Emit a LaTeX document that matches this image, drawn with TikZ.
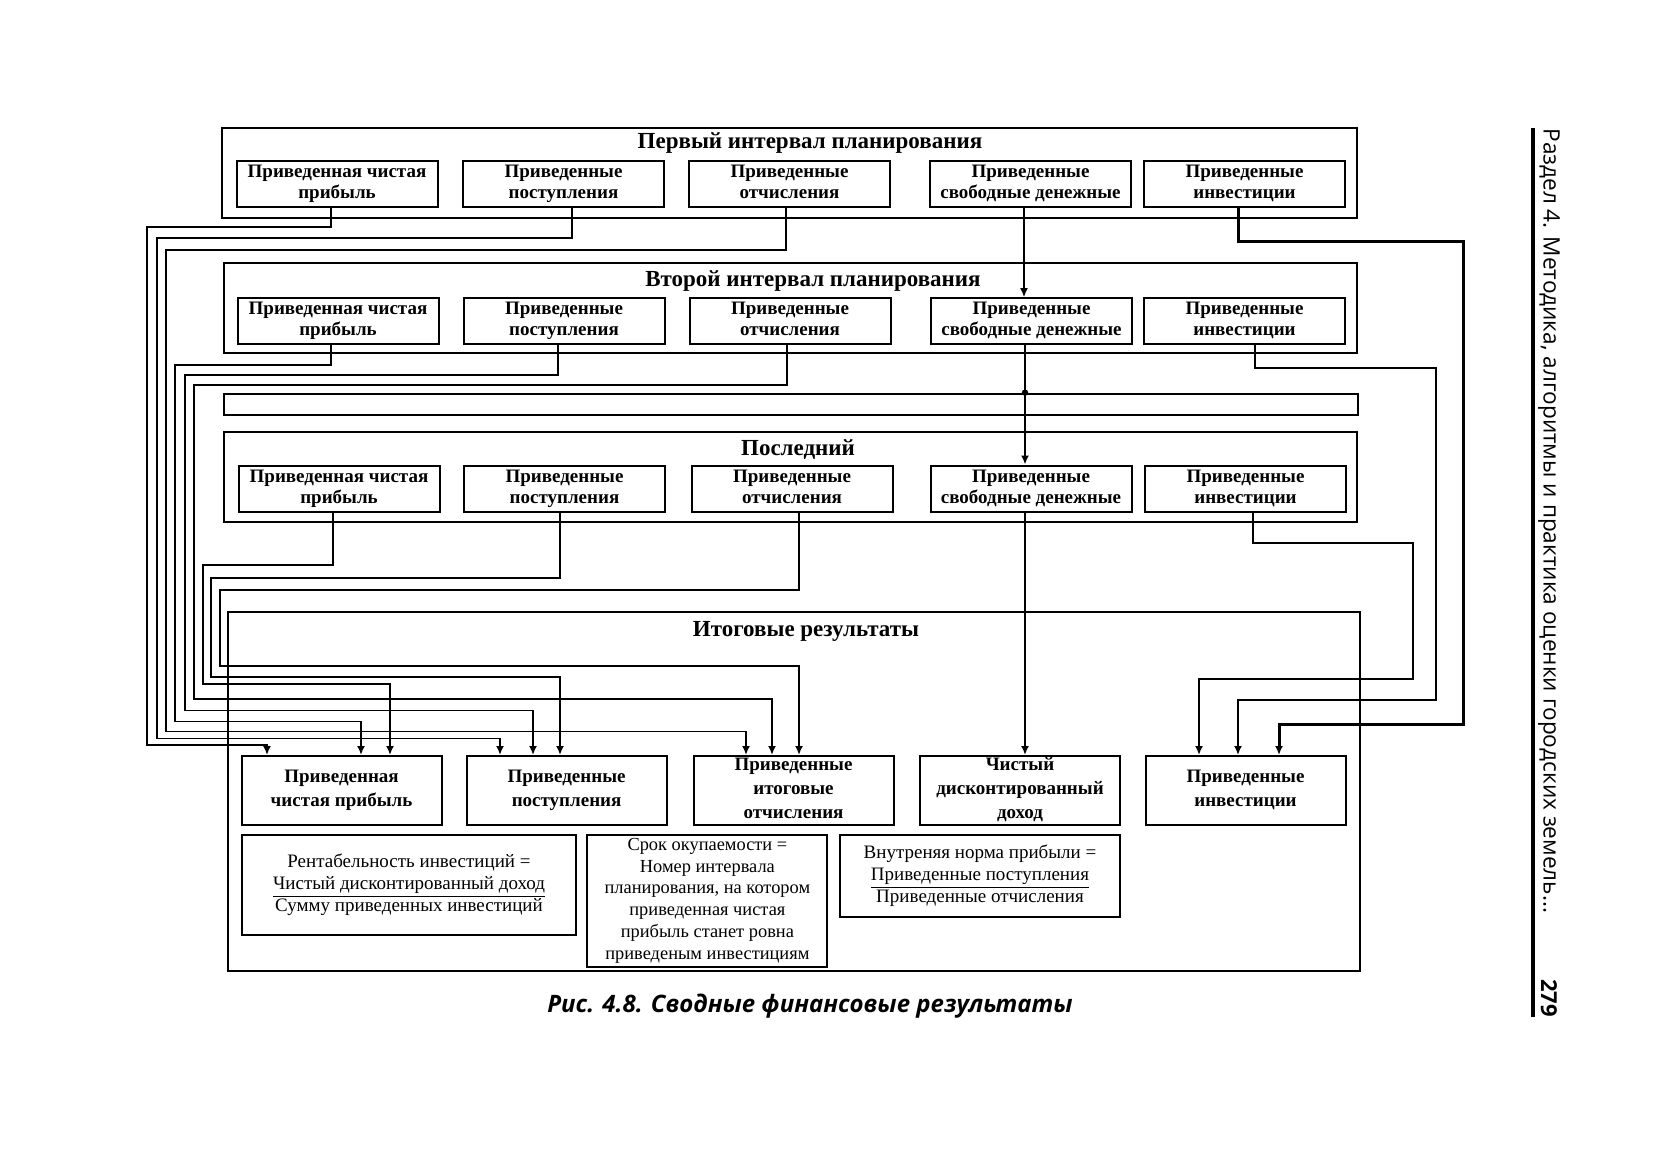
\documentclass[tikz,border=0pt]{standalone}
\usepackage{fontspec}
\setmainfont{Liberation Serif}
\newfontfamily\hdrfont{Open Sans}
\usetikzlibrary{arrows.meta}
\begin{document}
\begin{tikzpicture}[x=0.5pt,y=-0.5pt,
  frame/.style={draw, line width=1.4pt, inner sep=0pt},
  rowbox/.style={draw, line width=1pt, inner sep=0pt, minimum width=100.5pt, minimum height=23pt, align=center, text depth=2.2pt, font=\bfseries\fontsize{9.5}{10.5}\selectfont},
  resbox/.style={draw, line width=1pt, inner sep=0pt, minimum width=100pt, minimum height=34.5pt, align=center, text depth=2.2pt, font=\bfseries\fontsize{9.5}{12}\selectfont},
  fmbox/.style={draw, line width=1pt, inner sep=0pt, align=center, font=\fontsize{9.5}{11}\selectfont},
  ttl/.style={font=\bfseries\fontsize{11.5}{13}\selectfont, inner sep=0pt},
  conn/.style={line width=0.9pt},
  arr/.style={-{Latex[length=4.5pt,width=4pt]}},
]
\fill[white] (0,0) rectangle (1678,1164);
\useasboundingbox (0,0) rectangle (1678,1164);

% outer frames
\node[frame, minimum width=567.5pt, minimum height=45pt] (O1) at (789.5,173) {};
\node[frame, minimum width=566.5pt, minimum height=45pt] (O2) at (790.5,308) {};
\node[frame, minimum width=567pt, minimum height=10.5pt] (bar) at (791,404.5) {};
\node[frame, minimum width=566.5pt, minimum height=45pt] (O3) at (790.5,477) {};
\node[frame, minimum width=566pt, minimum height=179.5pt] (O4) at (794,791.5) {};

% titles
\node[ttl] (T1) at (810,143) {Первый интервал планирования};
\node[ttl] (T2) at (813,281.5) {Второй интервал планирования};
\node[ttl] (T3) at (798,449.5) {Последний};
\node[ttl] (T4) at (806,631) {Итоговые результаты};

% row 1
\node[rowbox] (r1b1) at (337,184) {Приведенная чистая\\прибыль};
\node[rowbox] (r1b2) at (563.5,184) {Приведенные\\поступления};
\node[rowbox] (r1b3) at (789.5,184) {Приведенные\\отчисления};
\node[rowbox] (r1b4) at (1030.5,184) {Приведенные\\свободные денежные};
\node[rowbox] (r1b5) at (1244.5,184) {Приведенные\\инвестиции};
% row 2
\node[rowbox] (r2b1) at (338,321) {Приведенная чистая\\прибыль};
\node[rowbox] (r2b2) at (564,321) {Приведенные\\поступления};
\node[rowbox] (r2b3) at (790,321) {Приведенные\\отчисления};
\node[rowbox] (r2b4) at (1031.5,321) {Приведенные\\свободные денежные};
\node[rowbox] (r2b5) at (1244.5,321) {Приведенные\\инвестиции};
% row 3
\node[rowbox] (r3b1) at (339,488.5) {Приведенная чистая\\прибыль};
\node[rowbox] (r3b2) at (564.5,488.5) {Приведенные\\поступления};
\node[rowbox] (r3b3) at (792,488.5) {Приведенные\\отчисления};
\node[rowbox] (r3b4) at (1031,488.5) {Приведенные\\свободные денежные};
\node[rowbox] (r3b5) at (1245.5,488.5) {Приведенные\\инвестиции};

% result boxes
\node[resbox] (R1) at (341.5,790.5) {Приведенная\\чистая прибыль};
\node[resbox] (R2) at (566.6,790.5) {Приведенные\\поступления};
\node[resbox] (R3) at (793.5,790.5) {Приведенные\\итоговые\\отчисления};
\node[resbox] (R4) at (1020,790.5) {Чистый\\дисконтированный\\доход};
\node[resbox] (R5) at (1245.5,790.5) {Приведенные\\инвестиции};

% formula boxes
\node[fmbox, minimum width=167pt, minimum height=50pt] (F1) at (409,885)
  {Рентабельность инвестиций =\\\underline{Чистый дисконтированный доход}\\Сумму приведенных инвестиций};
\node[fmbox, minimum width=120pt, minimum height=65.75pt, font=\fontsize{9.2}{10.9}\selectfont] (F2) at (707.4,900.75)
  {Срок окупаемости =\\Номер интервала\\планирования, на котором\\приведенная чистая\\прибыль станет ровна\\приведеным инвестициям};
\node[fmbox, minimum width=140pt, minimum height=41pt] (F3) at (980,876)
  {Внутреняя норма прибыли =\\\underline{Приведенные поступления}\\Приведенные отчисления};

% left-side connectors
\draw[conn,arr] ([xshift=-3pt]r1b1.south) |- (147,227) |- (267,745) -- (267,0 |- R1.north);
\draw[conn,arr] ([xshift=4.25pt]r1b2.south) |- (157,238) |- (500,738.5) -- (500,0 |- R2.north);
\draw[conn,arr] ([xshift=-1.75pt]r1b3.south) |- (166,250) |- (746,731.5) -- (746,0 |- R3.north);
\draw[conn,arr] ([xshift=-3.5pt]r2b1.south) |- (175,365) |- (361,721.5) -- (361,0 |- R1.north);
\draw[conn,arr] ([xshift=-3pt]r2b2.south) |- (185,375) |- (533,710.5) -- (533,0 |- R2.north);
\draw[conn,arr] ([xshift=-1.5pt]r2b3.south) |- (194,385) |- (772,699) -- (772,0 |- R3.north);
\draw[conn,arr] ([xshift=-3pt]r3b1.south) |- (203,565) |- (390,684) -- (390,0 |- R1.north);
\draw[conn,arr] ([xshift=-2.25pt]r3b2.south) |- (211,578) |- (560,677) -- (560,0 |- R2.north);
\draw[conn,arr] ([xshift=3.5pt]r3b3.south) |- (220,590) |- (799,666) -- (799,0 |- R3.north);

% central connectors
\draw[line width=0.6pt,arr] ([xshift=-3.25pt]r1b4.south) -- (1024,0 |- r2b4.north);
\draw[conn,arr] ([xshift=-3.25pt]r2b4.south) -- (1025,0 |- r3b4.north);
\fill (1025,0 |- bar.north) circle (1.6pt);
\draw[conn,arr] ([xshift=-3pt]r3b4.south) -- (1025,0 |- R4.north);

% right-side connectors
\draw[line width=1.5pt,arr] ([xshift=-3.25pt]r1b5.south) |- (1463,241) |- (1279,724) -- (1279,0 |- R5.north);
\draw[conn,arr] ([xshift=5.25pt]r2b5.south) |- (1436,368) |- (1238,700) -- (1238,0 |- R5.north);
\draw[conn,arr] ([xshift=3.75pt]r3b5.south) |- (1413,543) |- (1199,679) -- (1199,0 |- R5.north);

% caption
\node[font=\hdrfont\bfseries\itshape\fontsize{12}{14}\selectfont, inner sep=0pt] (cap) at (810,1006) {Рис. 4.8. Сводные финансовые результаты};

% page header
\coordinate (ruleTop) at (1533,128);
\coordinate (ruleBot) at (1533,1017);
\draw[line width=2pt] (ruleTop) -- (ruleBot);
\node[rotate=-90, anchor=west, inner sep=0pt, font=\hdrfont\fontsize{11.3}{13}\selectfont] (hdr) at (1549,128) {Раздел 4. Методика, алгоритмы и практика оценки городских земель...};
\node[rotate=-90, inner sep=0pt, font=\hdrfont\bfseries\fontsize{11}{12}\selectfont] (pg) at (1549,998) {279};
\end{tikzpicture}
\end{document}
